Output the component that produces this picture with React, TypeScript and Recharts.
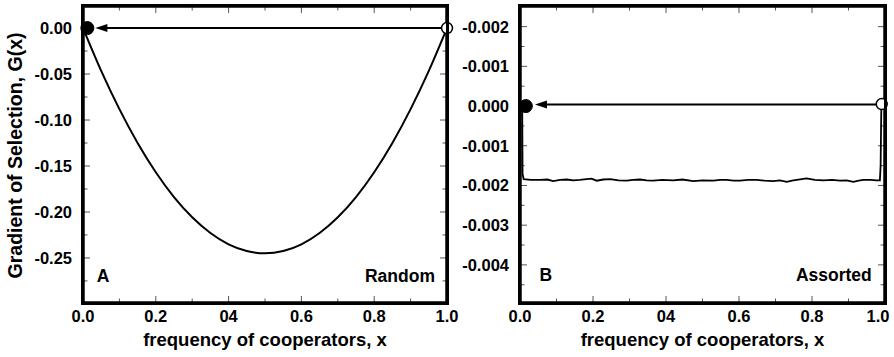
import React from "react";
import { LineChart, Line, XAxis, YAxis, ReferenceDot, ReferenceLine, Label } from "recharts";

const FONT = "'Liberation Sans', Arial, Helvetica, sans-serif";

// shared x axis
const X_TICKS = [0, 0.1, 0.2, 0.3, 0.4, 0.5, 0.6, 0.7, 0.8, 0.9, 1.0];
const X_TICK_LABELS = ["0.0", "", "0.2", "", "04", "", "0.6", "", "0.8", "", "1.0"];

// panel A (random)
const A_Y_TICKS = [0, -0.025, -0.05, -0.075, -0.1, -0.125, -0.15, -0.175, -0.2, -0.225, -0.25, -0.275];
const A_Y_TICK_LABELS = ["0.00", "", "-0.05", "", "-0.10", "", "-0.15", "", "-0.20", "", "-0.25", ""];
const A_X = [0, 0.05, 0.1, 0.15, 0.2, 0.25, 0.3, 0.35, 0.4, 0.45, 0.5, 0.55, 0.6, 0.65, 0.7, 0.75, 0.8, 0.85, 0.9, 0.95, 1.0];
const A_G = [0, -0.0466, -0.0882, -0.125, -0.1568, -0.1838, -0.2058, -0.2229, -0.2352, -0.2425, -0.245,
  -0.2425, -0.2352, -0.2229, -0.2058, -0.1838, -0.1568, -0.125, -0.0882, -0.0466, 0];

// panel B (assorted)
const B_Y_TICKS = [0.002, 0.0015, 0.001, 0.0005, 0, -0.0005, -0.001, -0.0015, -0.002, -0.0025, -0.003, -0.0035, -0.004, -0.0045];
const B_Y_TICK_LABELS = ["-0.002", "", "-0.001", "", "0.000", "", "-0.001", "", "-0.002", "", "-0.003", "", "-0.004", ""];
const B_X = [0.006, 0.007, 0.01, 0.03, 0.055, 0.075, 0.091, 0.11, 0.128, 0.146, 0.164, 0.182, 0.196, 0.21, 0.228, 0.247,
  0.27, 0.292, 0.31, 0.329, 0.347, 0.365, 0.39, 0.42, 0.445, 0.475, 0.5, 0.53, 0.548, 0.566, 0.585, 0.603, 0.625,
  0.648, 0.67, 0.694, 0.712, 0.731, 0.745, 0.758, 0.772, 0.785, 0.808, 0.831, 0.855, 0.877, 0.895, 0.913, 0.928,
  0.941, 0.96, 0.977, 0.986, 0.988, 0.99];
const B_G = [0, -0.0017, -0.00184, -0.00186, -0.00186, -0.00185, -0.00189, -0.00186, -0.00185, -0.00187, -0.00186,
  -0.00184, -0.00183, -0.00188, -0.00185, -0.00184, -0.00187, -0.00188, -0.00186, -0.00185, -0.00187, -0.00188,
  -0.00186, -0.00187, -0.00185, -0.00189, -0.00187, -0.00188, -0.00186, -0.00186, -0.00188, -0.00188, -0.00186,
  -0.00186, -0.00188, -0.00189, -0.00187, -0.00191, -0.00188, -0.00186, -0.00184, -0.00182, -0.00186, -0.00187,
  -0.00186, -0.00188, -0.00187, -0.00191, -0.00188, -0.00186, -0.00186, -0.00187, -0.00187, -0.0015, 0.00004];

const A_DATA = A_X.map((x, i) => ({ x, g: A_G[i] }));
const B_DATA = B_X.map((x, i) => ({ x, g: B_G[i] }));
const A_DOMAIN: [number, number] = [-0.299, 0.024];
const B_DOMAIN: [number, number] = [-0.00496, 0.00252];

// tick label renderers (text only, outside the frame)
function makeTickText(side: "bottom" | "left", ticks: number[], labels: string[], maxTextX = 9999) {
  return (p: any) => {
    const i = ticks.indexOf(p.payload.value);
    const label = i >= 0 ? labels[i] : "";
    if (!label) return <g />;
    return side === "bottom" ? (
      <text x={Math.min(p.x, maxTextX)} y={p.y + 18.5} textAnchor="middle" fontSize={16.5} fontWeight={700} fontFamily={FONT} fill="#000">
        {label}
      </text>
    ) : (
      <text x={p.x - 11} y={p.y + 6} textAnchor="end" fontSize={16.5} fontWeight={700} fontFamily={FONT} fill="#000">
        {label}
      </text>
    );
  };
}

const tickXA = makeTickText("bottom", X_TICKS, X_TICK_LABELS);
const tickXB = makeTickText("bottom", X_TICKS, X_TICK_LABELS, 438);
const tickYA = makeTickText("left", A_Y_TICKS, A_Y_TICK_LABELS);
const tickYB = makeTickText("left", B_Y_TICKS, B_Y_TICK_LABELS);

// one edge of the frame, with inward tick marks placed along the segment
function makeEdge(ticks: number[], labels: string[], v0: number, v1: number, nx: number, ny: number) {
  return (p: any) => {
    const { x1, y1, x2, y2 } = p;
    return (
      <g>
        {ticks.map((t, i) => {
          const f = (t - v0) / (v1 - v0);
          const x = x1 + (x2 - x1) * f;
          const y = y1 + (y2 - y1) * f;
          const len = labels[i] ? 7 : 4.5;
          return <line key={i} x1={x} y1={y} x2={x + nx * len} y2={y + ny * len} stroke="#555" strokeWidth={1} />;
        })}
        <line x1={x1} y1={y1} x2={x2} y2={y2} stroke="#000" strokeWidth={3.5} strokeLinecap="square" />
      </g>
    );
  };
}

const edgeXBottom = makeEdge(X_TICKS, X_TICK_LABELS, 0, 1, 0, -1);
const edgeXTop = makeEdge(X_TICKS, X_TICK_LABELS, 0, 1, 0, 1);
const edgeALeft = makeEdge(A_Y_TICKS, A_Y_TICK_LABELS, A_DOMAIN[0], A_DOMAIN[1], 1, 0);
const edgeARight = makeEdge(A_Y_TICKS, A_Y_TICK_LABELS, A_DOMAIN[0], A_DOMAIN[1], -1, 0);
const edgeBLeft = makeEdge(B_Y_TICKS, B_Y_TICK_LABELS, B_DOMAIN[0], B_DOMAIN[1], 1, 0);
const edgeBRight = makeEdge(B_Y_TICKS, B_Y_TICK_LABELS, B_DOMAIN[0], B_DOMAIN[1], -1, 0);

const Arrow = (p: any) => {
  const { x1, y1, x2, y2 } = p;
  const dir = Math.sign(x2 - x1) || -1;
  return (
    <g>
      <line x1={x1} y1={y1} x2={x2 - dir * 6} y2={y2} stroke="#000" strokeWidth={2} />
      <polygon points={`${x2},${y2} ${x2 - dir * 12},${y2 - 4} ${x2 - dir * 12},${y2 + 4}`} fill="#000" />
    </g>
  );
};

const XTitle = (p: any) => {
  const vb = p.viewBox;
  return (
    <text x={vb.x + vb.width / 2} y={vb.y + 43} textAnchor="middle" fontSize={18.5} fontWeight={700} fontFamily={FONT} fill="#000">
      frequency of cooperators, x
    </text>
  );
};

const YTitle = (p: any) => {
  const vb = p.viewBox;
  const cx = 15;
  const cy = vb.y + vb.height / 2 + 1;
  return (
    <text x={cx} y={cy} transform={`rotate(-90 ${cx} ${cy})`} textAnchor="middle" dominantBaseline="central"
      fontSize={19.5} fontWeight={700} fontFamily={FONT} fill="#000">
      Gradient of Selection, G(x)
    </text>
  );
};

const tagStyle = { fontSize: 17.5, fontWeight: 700, fill: "#000", fontFamily: FONT };
const labelA = { value: "A", position: "center" as const, ...tagStyle };
const labelRandom = { value: "Random", position: "left" as const, offset: 0, ...tagStyle };
const labelB = { value: "B", position: "center" as const, ...tagStyle };
const labelAssorted = { value: "Assorted", position: "left" as const, offset: 0, ...tagStyle };

function PanelA() {
  const [lo, hi] = A_DOMAIN;
  return (
    <LineChart width={460} height={357} margin={{ top: 6, right: 13, bottom: 0, left: 0 }}>
      <XAxis type="number" dataKey="x" domain={[0, 1]} ticks={X_TICKS} interval={0} height={54}
        tickSize={0} tickMargin={0} axisLine={false} tickLine={false} tick={tickXA}>
        <Label content={XTitle} />
      </XAxis>
      <YAxis type="number" domain={A_DOMAIN} ticks={A_Y_TICKS} interval={0} width={83}
        tickSize={0} tickMargin={0} axisLine={false} tickLine={false} tick={tickYA}>
        <Label content={YTitle} />
      </YAxis>
      <ReferenceLine segment={[{ x: 0, y: lo }, { x: 1, y: lo }]} shape={edgeXBottom} />
      <ReferenceLine segment={[{ x: 0, y: hi }, { x: 1, y: hi }]} shape={edgeXTop} />
      <ReferenceLine segment={[{ x: 0, y: lo }, { x: 0, y: hi }]} shape={edgeALeft} />
      <ReferenceLine segment={[{ x: 1, y: lo }, { x: 1, y: hi }]} shape={edgeARight} />
      <Line data={A_DATA} dataKey="g" type="monotone" stroke="#000" strokeWidth={2} dot={false} activeDot={false} isAnimationActive={false} />
      <ReferenceLine segment={[{ x: 1, y: 0 }, { x: 0.034, y: 0 }]} shape={Arrow} />
      <ReferenceDot x={0.012} y={0} r={6.5} fill="#000" stroke="#000" />
      <ReferenceDot x={1} y={0} r={5.5} fill="#fff" stroke="#000" strokeWidth={1.5} />
      <ReferenceDot x={0.055} y={-0.2696} r={0} fill="none" stroke="none" label={labelA} />
      <ReferenceDot x={0.967} y={-0.2696} r={0} fill="none" stroke="none" label={labelRandom} />
    </LineChart>
  );
}

function PanelB() {
  const [lo, hi] = B_DOMAIN;
  return (
    <LineChart width={454} height={357} margin={{ top: 6, right: 9, bottom: 0, left: 0 }}>
      <XAxis type="number" dataKey="x" domain={[0, 1]} ticks={X_TICKS} interval={0} height={54}
        tickSize={0} tickMargin={0} axisLine={false} tickLine={false} tick={tickXB}>
        <Label content={XTitle} />
      </XAxis>
      <YAxis type="number" domain={B_DOMAIN} ticks={B_Y_TICKS} interval={0} width={80}
        tickSize={0} tickMargin={0} axisLine={false} tickLine={false} tick={tickYB} />
      <ReferenceLine segment={[{ x: 0, y: lo }, { x: 1, y: lo }]} shape={edgeXBottom} />
      <ReferenceLine segment={[{ x: 0, y: hi }, { x: 1, y: hi }]} shape={edgeXTop} />
      <ReferenceLine segment={[{ x: 0, y: lo }, { x: 0, y: hi }]} shape={edgeBLeft} />
      <ReferenceLine segment={[{ x: 1, y: lo }, { x: 1, y: hi }]} shape={edgeBRight} />
      <Line data={B_DATA} dataKey="g" type="linear" stroke="#000" strokeWidth={1.8} dot={false} activeDot={false} isAnimationActive={false} />
      <ReferenceLine segment={[{ x: 0.991, y: 0.00004 }, { x: 0.041, y: 0.00004 }]} shape={Arrow} />
      <ReferenceDot x={0.016} y={0} r={6.5} fill="#000" stroke="#000" />
      <ReferenceDot x={0.991} y={0.00005} r={5.5} fill="#fff" stroke="#000" strokeWidth={1.5} />
      <ReferenceDot x={0.071} y={-0.00426} r={0} fill="none" stroke="none" label={labelB} />
      <ReferenceDot x={0.9637} y={-0.00426} r={0} fill="none" stroke="none" label={labelAssorted} />
    </LineChart>
  );
}

// plot frame drawn as a bordered box over each plot area
const frameBox = (left: number, width: number) => ({
  position: "absolute" as const,
  left: left - 1.75,
  top: 6 - 1.75,
  width: width + 3.5,
  height: 297 + 3.5,
  border: "3.5px solid #000",
  boxSizing: "border-box" as const,
  pointerEvents: "none" as const,
});

export default function App() {
  return (
    <div style={{ position: "absolute", left: 0, top: 0, width: 894, height: 357, background: "#fff" }}>
      <div style={{ position: "absolute", left: 0, top: 0 }}>
        <PanelA />
      </div>
      <div style={{ position: "absolute", left: 440, top: 0 }}>
        <PanelB />
      </div>
      <div style={frameBox(83, 364)} />
      <div style={frameBox(520, 365)} />
    </div>
  );
}
